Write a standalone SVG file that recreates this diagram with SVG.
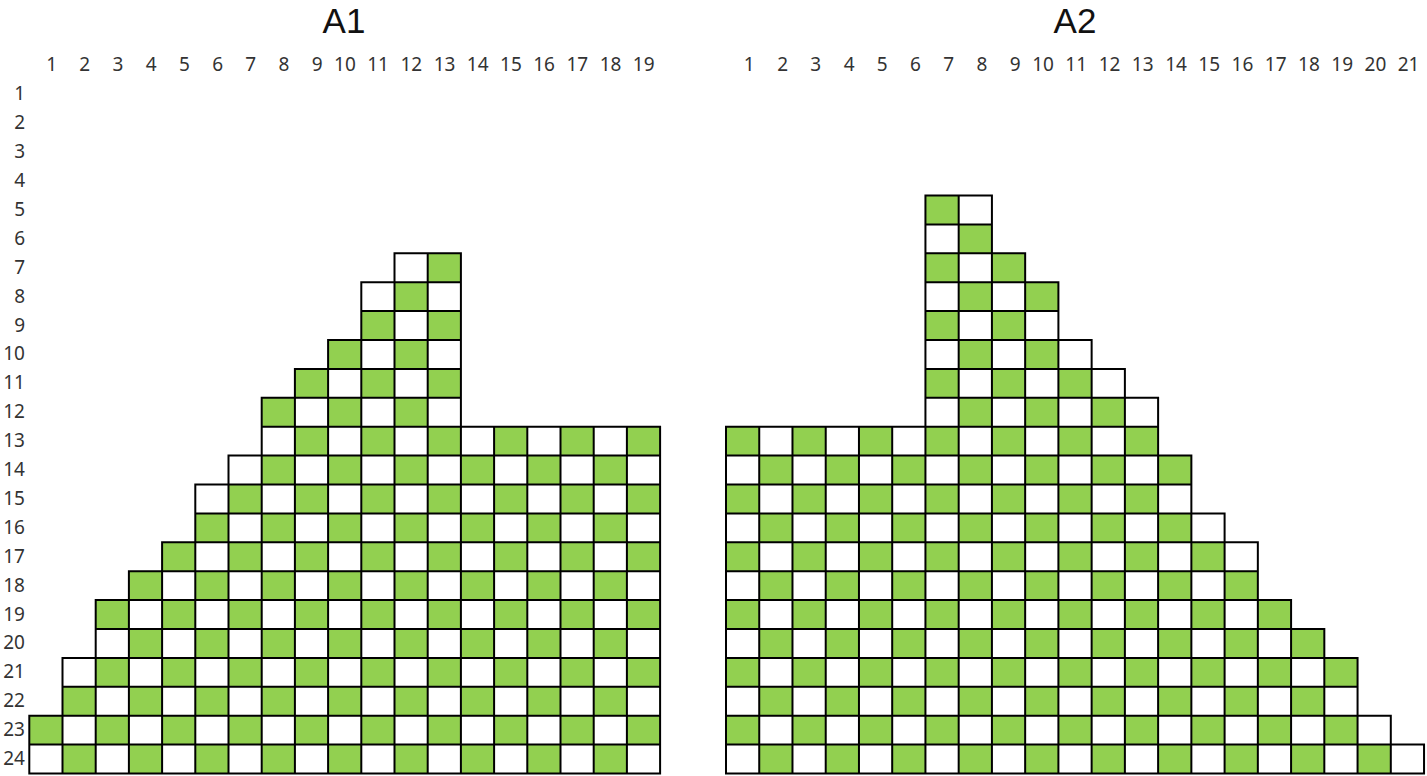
<svg xmlns="http://www.w3.org/2000/svg" width="1427" height="776" viewBox="0 0 1427 776">
<style>
.title{font-family:"Liberation Sans","Noto Sans",sans-serif;font-size:35px;fill:#111;text-anchor:middle}
.lbl{font-family:"Noto Sans","Liberation Sans",sans-serif;font-size:19px;fill:#333;text-anchor:end}
.grid{fill:none;stroke:#000;stroke-width:2;stroke-linecap:square;vector-effect:non-scaling-stroke}
.area{fill:url(#chk);stroke:none}
</style>
<defs>
<pattern id="chk" patternUnits="userSpaceOnUse" width="2" height="2">
<rect width="2" height="2" fill="#fff"/>
<rect width="1" height="1" fill="#92D050"/>
<rect x="1" y="1" width="1" height="1" fill="#92D050"/>
</pattern>
</defs>
<rect width="1427" height="776" fill="#fff"/>

<g id="A1-title"><text class="title" x="344" y="33">A1</text></g>
<g id="A2-title"><text class="title" x="1075" y="33">A2</text></g>

<g id="A1-col-labels">
<text class="lbl" x="57.0" y="71">1</text>
<text class="lbl" x="90.2" y="71">2</text>
<text class="lbl" x="123.4" y="71">3</text>
<text class="lbl" x="156.6" y="71">4</text>
<text class="lbl" x="189.8" y="71">5</text>
<text class="lbl" x="223.0" y="71">6</text>
<text class="lbl" x="256.2" y="71">7</text>
<text class="lbl" x="289.4" y="71">8</text>
<text class="lbl" x="322.6" y="71">9</text>
<text class="lbl" x="355.8" y="71">10</text>
<text class="lbl" x="389.0" y="71">11</text>
<text class="lbl" x="422.2" y="71">12</text>
<text class="lbl" x="455.4" y="71">13</text>
<text class="lbl" x="488.6" y="71">14</text>
<text class="lbl" x="521.8" y="71">15</text>
<text class="lbl" x="555.0" y="71">16</text>
<text class="lbl" x="588.2" y="71">17</text>
<text class="lbl" x="621.4" y="71">18</text>
<text class="lbl" x="654.6" y="71">19</text>
</g>

<g id="A2-col-labels">
<text class="lbl" x="754.7" y="71">1</text>
<text class="lbl" x="788.0" y="71">2</text>
<text class="lbl" x="821.2" y="71">3</text>
<text class="lbl" x="854.5" y="71">4</text>
<text class="lbl" x="887.7" y="71">5</text>
<text class="lbl" x="920.9" y="71">6</text>
<text class="lbl" x="954.2" y="71">7</text>
<text class="lbl" x="987.4" y="71">8</text>
<text class="lbl" x="1020.7" y="71">9</text>
<text class="lbl" x="1053.9" y="71">10</text>
<text class="lbl" x="1087.1" y="71">11</text>
<text class="lbl" x="1120.4" y="71">12</text>
<text class="lbl" x="1153.6" y="71">13</text>
<text class="lbl" x="1186.9" y="71">14</text>
<text class="lbl" x="1220.1" y="71">15</text>
<text class="lbl" x="1253.3" y="71">16</text>
<text class="lbl" x="1286.6" y="71">17</text>
<text class="lbl" x="1319.8" y="71">18</text>
<text class="lbl" x="1353.1" y="71">19</text>
<text class="lbl" x="1386.3" y="71">20</text>
<text class="lbl" x="1419.5" y="71">21</text>
</g>

<g id="row-labels">
<text class="lbl" x="25" y="100.35">1</text>
<text class="lbl" x="25" y="129.25">2</text>
<text class="lbl" x="25" y="158.15">3</text>
<text class="lbl" x="25" y="187.05">4</text>
<text class="lbl" x="25" y="215.95">5</text>
<text class="lbl" x="25" y="244.85">6</text>
<text class="lbl" x="25" y="273.75">7</text>
<text class="lbl" x="25" y="302.65">8</text>
<text class="lbl" x="25" y="331.55">9</text>
<text class="lbl" x="25" y="360.45">10</text>
<text class="lbl" x="25" y="389.35">11</text>
<text class="lbl" x="25" y="418.25">12</text>
<text class="lbl" x="25" y="447.15">13</text>
<text class="lbl" x="25" y="476.05">14</text>
<text class="lbl" x="25" y="504.95">15</text>
<text class="lbl" x="25" y="533.85">16</text>
<text class="lbl" x="25" y="562.75">17</text>
<text class="lbl" x="25" y="591.65">18</text>
<text class="lbl" x="25" y="620.55">19</text>
<text class="lbl" x="25" y="649.45">20</text>
<text class="lbl" x="25" y="678.35">21</text>
<text class="lbl" x="25" y="707.25">22</text>
<text class="lbl" x="25" y="736.15">23</text>
<text class="lbl" x="25" y="765.05">24</text>
</g>

<g id="A1-grid" transform="translate(29.3,79.9) scale(33.2,28.9)">
<path class="area" d="M0 24V22H1V20H2V18H3V17H4V16H5V14H6V13H7V11H8V10H9V9H10V7H11V6H13V12H19V24Z"/>
<path class="grid" d="M11 6H13M10 7H13M10 8H13M9 9H13M8 10H13M7 11H13M7 12H19M6 13H19M5 14H19M5 15H19M4 16H19M3 17H19M2 18H19M2 19H19M1 20H19M1 21H19M0 22H19M0 23H19M0 24H19M0 22V24M1 20V24M2 18V24M3 17V24M4 16V24M5 14V24M6 13V24M7 11V24M8 10V24M9 9V24M10 7V24M11 6V24M12 6V24M13 6V24M14 12V24M15 12V24M16 12V24M17 12V24M18 12V24M19 12V24"/>
</g>

<g id="A2-grid" transform="translate(726,79.9) scale(33.24,28.9)">
<path class="area" d="M6 4H8V6H9V7H10V9H11V10H12V11H13V13H14V15H15V16H16V18H17V19H18V20H19V22H20V23H21V24H0V12H6Z"/>
<path class="grid" d="M6 4H8M6 5H8M6 6H9M6 7H10M6 8H10M6 9H11M6 10H12M6 11H13M0 12H13M0 13H14M0 14H14M0 15H15M0 16H16M0 17H16M0 18H17M0 19H18M0 20H19M0 21H19M0 22H20M0 23H21M0 24H21M0 12V24M1 12V24M2 12V24M3 12V24M4 12V24M5 12V24M6 4V24M7 4V24M8 4V24M9 6V24M10 7V24M11 9V24M12 10V24M13 11V24M14 13V24M15 15V24M16 16V24M17 18V24M18 19V24M19 20V24M20 22V24M21 23V24"/>
</g>
</svg>
